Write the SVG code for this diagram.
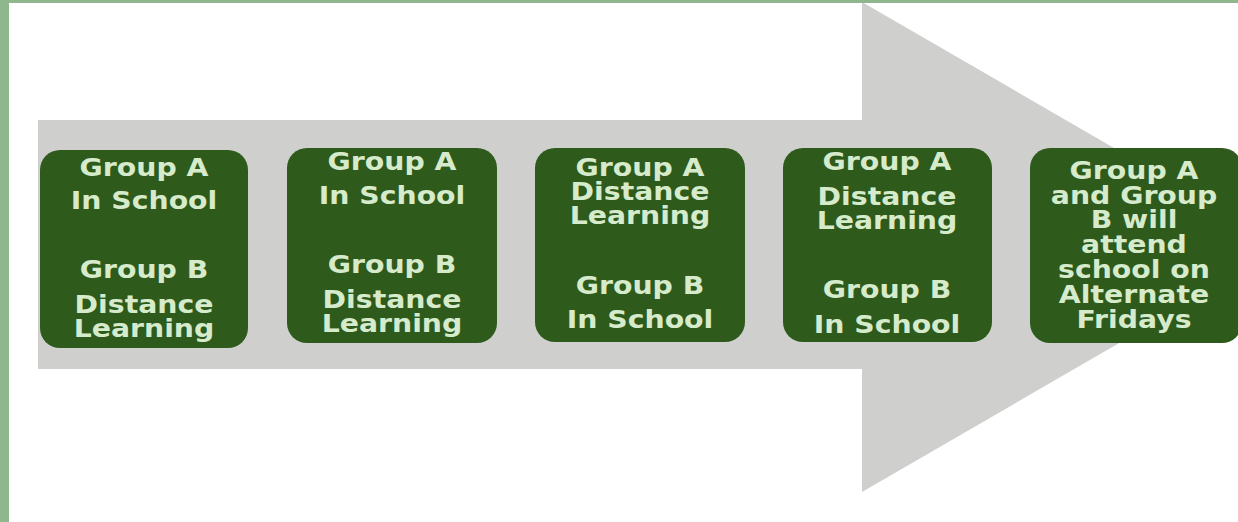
<svg xmlns="http://www.w3.org/2000/svg" width="1238" height="522" viewBox="0 0 1238 522">
<style>
.box{fill:#2e5a1c;}
.t{font-family:"DejaVu Sans",Verdana,sans-serif;font-weight:bold;font-size:24px;fill:#d6ebcb;text-anchor:middle;}
</style>
<rect x="0" y="0" width="1238" height="522" fill="#ffffff"/>
<g id="arrow">
<polygon points="38,120 862,120 862,2 1285,247 862,492 862,369 38,369" fill="#cfd0ce"/>
</g>
<g id="frame">
<rect x="0" y="0" width="1238" height="3" fill="#8fb78d"/>
<rect x="0" y="0" width="9" height="522" fill="#8fb78d"/>
</g>
<g id="connectors"></g>
<g id="node1">
<rect class="box" x="40" y="150" width="208" height="198" rx="20"/>
<g transform="translate(144,0) scale(1.18,1)">
<text class="t" x="0" y="176">Group  A</text>
<text class="t" x="0" y="209">In School</text>
<text class="t" x="0" y="278">Group B</text>
<text class="t" x="0" y="313">Distance</text>
<text class="t" x="0" y="337">Learning</text>
</g>
</g>
<g id="node2">
<rect class="box" x="287" y="148" width="210" height="195" rx="20"/>
<g transform="translate(392,0) scale(1.18,1)">
<text class="t" x="0" y="170">Group A</text>
<text class="t" x="0" y="204">In School</text>
<text class="t" x="0" y="273">Group B</text>
<text class="t" x="0" y="308">Distance</text>
<text class="t" x="0" y="332">Learning</text>
</g>
</g>
<g id="node3">
<rect class="box" x="535" y="148" width="210" height="194" rx="20"/>
<g transform="translate(640,0) scale(1.18,1)">
<text class="t" x="0" y="176">Group A</text>
<text class="t" x="0" y="200">Distance</text>
<text class="t" x="0" y="224">Learning</text>
<text class="t" x="0" y="294">Group B</text>
<text class="t" x="0" y="328">In School</text>
</g>
</g>
<g id="node4">
<rect class="box" x="783" y="148" width="209" height="194" rx="20"/>
<g transform="translate(887,0) scale(1.18,1)">
<text class="t" x="0" y="170">Group A</text>
<text class="t" x="0" y="205">Distance</text>
<text class="t" x="0" y="229">Learning</text>
<text class="t" x="0" y="298">Group B</text>
<text class="t" x="0" y="333">In School</text>
</g>
</g>
<g id="node5">
<rect class="box" x="1030" y="148" width="212" height="195" rx="20"/>
<g transform="translate(1134,0) scale(1.18,1)">
<text class="t" x="0" y="179">Group A</text>
<text class="t" x="0" y="204">and Group</text>
<text class="t" x="0" y="228">B will</text>
<text class="t" x="0" y="253">attend</text>
<text class="t" x="0" y="278">school on</text>
<text class="t" x="0" y="303">Alternate</text>
<text class="t" x="0" y="328">Fridays</text>
</g>
</g>
</svg>
